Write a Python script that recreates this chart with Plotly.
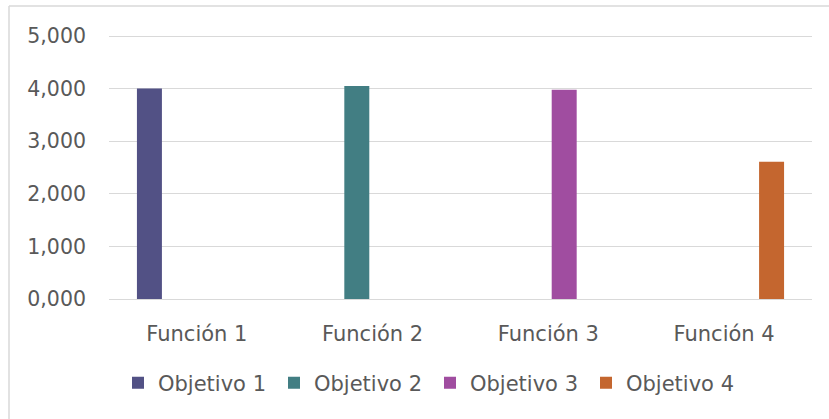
import plotly.graph_objects as go

categories = ["Función 1", "Función 2", "Función 3", "Función 4"]
series_names = ["Objetivo 1", "Objetivo 2", "Objetivo 3", "Objetivo 4"]
obj1 = [4.005, None, None, None]
obj2 = [None, 4.05, None, None]
obj3 = [None, None, 3.98, None]
obj4 = [None, None, None, 2.61]
colors = ["#525185", "#427E83", "#A04DA0", "#C4662F"]

W, H = 829, 419
YMAX = 5.02
L, R = 109, 17
B = 120
ph = 263 * YMAX / 5
T = H - B - ph
pw = W - L - R

fig = go.Figure()
for name, vals, c in zip(series_names, [obj1, obj2, obj3, obj4], colors):
    fig.add_trace(go.Bar(x=categories, y=vals, name=name, marker_color=c,
                         marker_line_width=0))

font_color = "#595959"
fig.update_layout(
    width=W, height=H,
    margin=dict(l=L, r=R, t=T, b=B, autoexpand=False),
    paper_bgcolor="white", plot_bgcolor="white",
    separators=",.",
    barmode="group", bargap=0.28, bargroupgap=0.21,
    font=dict(family="DejaVu Sans", size=20, color=font_color),
    showlegend=True,
    legend=dict(orientation="h", x=(118 - L) / pw, xanchor="left", y=-84 / ph, yanchor="middle",
                font=dict(size=21, color=font_color), itemwidth=30,
                entrywidth=111, entrywidthmode="pixels",
                traceorder="normal"),
    xaxis=dict(showgrid=False, showline=False, ticks="", ticklabelstandoff=20,
               automargin=False, tickfont=dict(size=21, color=font_color)),
    yaxis=dict(range=[0, YMAX], tickvals=[0, 1, 2, 3, 4, 5], tickformat=",.3f", showgrid=True,
               gridcolor="#D9D9D9", gridwidth=1.3, zeroline=True, zerolinecolor="#D9D9D9",
               zerolinewidth=1.3, showline=False, ticks="", ticklabelstandoff=22,
               automargin=False, tickfont=dict(size=20.5, color=font_color)),
    shapes=[
        dict(type="line", xref="paper", yref="paper",
             x0=(9 - L) / pw, x1=(W + 5 - L) / pw, y0=(H - B - 6) / ph, y1=(H - B - 6) / ph,
             line=dict(color="#D9D9D9", width=1.5)),
        dict(type="line", xref="paper", yref="paper",
             x0=(9 - L) / pw, x1=(9 - L) / pw, y0=(H - B - 6) / ph, y1=-(B + 5) / ph,
             line=dict(color="#D9D9D9", width=1.5)),
    ],
)
fig.write_html("out.html", config={"displayModeBar": False})

with open("out.html", "r", encoding="utf-8") as f:
    html = f.read()
html = html.replace("<body>", '<body style="margin:0;padding:0;overflow:hidden">', 1)
with open("out.html", "w", encoding="utf-8") as f:
    f.write(html)
